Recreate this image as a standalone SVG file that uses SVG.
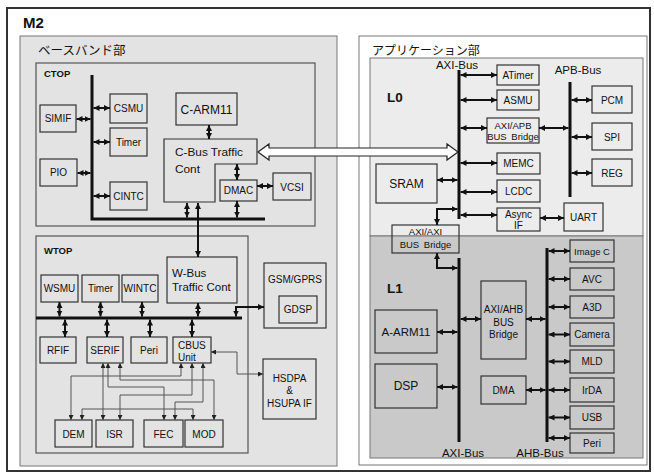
<svg xmlns="http://www.w3.org/2000/svg" width="654" height="476" viewBox="0 0 654 476">
<defs>
<marker id="ah" viewBox="0 0 8 8" refX="8" refY="4" markerWidth="6" markerHeight="6" markerUnits="userSpaceOnUse" orient="auto-start-reverse"><path d="M0,0 L8,4 L0,8 z" fill="#111"/></marker>
<marker id="sh" viewBox="0 0 8 8" refX="8" refY="4" markerWidth="5" markerHeight="5" markerUnits="userSpaceOnUse" orient="auto-start-reverse"><path d="M0,0 L8,4 L0,8 z" fill="#222"/></marker>
<style>
.t{font-family:"Liberation Sans",Arial,sans-serif;font-size:10px;fill:#111;text-anchor:middle}
.l{text-anchor:start}
.b{font-weight:bold}
.j{font-family:"Liberation Sans","Noto Sans CJK JP",sans-serif;font-size:12.5px;fill:#111}
.bb{fill:#e3e3e3;stroke:#333;stroke-width:1.2}
.b0{fill:#ececec;stroke:#333;stroke-width:1.2}
.b1{fill:#c9c9c9;stroke:#333;stroke-width:1.2}
.bus{stroke:#111;stroke-width:3;fill:none}
.c{stroke:#111;stroke-width:2;fill:none;marker-start:url(#ah);marker-end:url(#ah)}
.tc{stroke:#555;stroke-width:1;fill:none;marker-start:url(#sh);marker-end:url(#sh)}
</style>
</defs>
<rect width="654" height="476" fill="#fff"/>
<g id="frame">
<rect x="7" y="8" width="643" height="463" fill="#fff" stroke="#333" stroke-width="2"/>
<text class="t l b" x="23" y="28" style="font-size:15px">M2</text>
</g>
<g id="baseband">
<rect x="20" y="36" width="317" height="430" fill="#e3e3e3" stroke="#777" stroke-width="1"/>
<text class="j" x="38" y="55">ベースバンド部</text>
</g>
<g id="ctop">
<rect x="36" y="63" width="279" height="163" fill="#e3e3e3" stroke="#555" stroke-width="1.2"/>
<text class="t l b" x="44" y="77" style="font-size:9.5px">CTOP</text>
</g>
<g id="wtop">
<rect x="36" y="236" width="212" height="217" fill="#e3e3e3" stroke="#555" stroke-width="1.2"/>
<text class="t l b" x="44" y="254" style="font-size:9.5px">WTOP</text>
</g>
<g id="app">
<rect x="359" y="36" width="288" height="429" fill="#fff" stroke="#777" stroke-width="1"/>
<text class="j" x="372" y="55" style="font-size:12px">アプリケーション部</text>
</g>
<g id="L0">
<rect x="370" y="58" width="273" height="178" fill="#ececec" stroke="#777" stroke-width="1"/>
<text class="t l b" x="387" y="102" style="font-size:13.5px">L0</text>
</g>
<g id="L1">
<rect x="370" y="236" width="273" height="222" fill="#c9c9c9" stroke="#777" stroke-width="1"/>
<text class="t l b" x="387" y="293" style="font-size:13.5px">L1</text>
</g>

<g id="buses">
<path class="bus" d="M92,75 V219 H265"/>
<path class="bus" d="M36,318 H242"/>
<path class="bus" d="M459,70 V219"/>
<path class="bus" d="M570,82 V197"/>
<path class="bus" d="M459,258 V442"/>
<path class="bus" d="M547,248 V442"/>
<text class="t" x="457" y="69" style="font-size:11.5px">AXI-Bus</text>
<text class="t" x="578" y="74" style="font-size:11.5px">APB-Bus</text>
<text class="t" x="463" y="457" style="font-size:11.5px">AXI-Bus</text>
<text class="t" x="540" y="457" style="font-size:11.5px">AHB-Bus</text>
</g>

<g id="SIMIF"><rect class="bb" x="40" y="105" width="36" height="27"/><text class="t" x="58" y="122">SIMIF</text></g>
<g id="CSMU"><rect class="bb" x="110" y="94" width="37" height="29"/><text class="t" x="128.5" y="112">CSMU</text></g>
<g id="Timer1"><rect class="bb" x="110" y="128" width="37" height="28"/><text class="t" x="128.5" y="145.5">Timer</text></g>
<g id="PIO"><rect class="bb" x="40" y="159" width="37" height="27"/><text class="t" x="58.5" y="176">PIO</text></g>
<g id="CINTC"><rect class="bb" x="110" y="182" width="37" height="28"/><text class="t" x="128.5" y="199.5">CINTC</text></g>
<g id="CARM11"><rect class="bb" x="176" y="93" width="61" height="32"/><text class="t" x="206.5" y="113.5" style="font-size:12px">C-ARM11</text></g>
<g id="CBus"><path class="bb" d="M164,139 H257 V164 H215 V202 H164 Z"/><text class="t l" x="175" y="156" style="font-size:11.8px">C-Bus Traffic</text><text class="t l" x="175" y="173" style="font-size:11.8px">Cont</text></g>
<g id="DMAC"><rect class="bb" x="220" y="180" width="37" height="21"/><text class="t" x="238.5" y="194">DMAC</text></g>
<g id="VCSI"><rect class="bb" x="273" y="173" width="38" height="27"/><text class="t" x="292" y="190.5">VCSI</text></g>

<g id="WSMU"><rect class="bb" x="41" y="275" width="37" height="27"/><text class="t" x="59.5" y="292">WSMU</text></g>
<g id="Timer2"><rect class="bb" x="82" y="275" width="37" height="27"/><text class="t" x="100.5" y="292">Timer</text></g>
<g id="WINTC"><rect class="bb" x="122" y="275" width="36" height="27"/><text class="t" x="140" y="292">WINTC</text></g>
<g id="WBus"><rect class="bb" x="167" y="257" width="70" height="46"/><text class="t l" x="172" y="277" style="font-size:11.5px">W-Bus</text><text class="t l" x="172" y="291" style="font-size:11.5px">Traffic Cont</text></g>
<g id="RFIF"><rect class="bb" x="40" y="337" width="36" height="26"/><text class="t" x="58" y="354">RFIF</text></g>
<g id="SERIF"><rect class="bb" x="87" y="337" width="36" height="26"/><text class="t" x="105" y="354">SERIF</text></g>
<g id="Peri1"><rect class="bb" x="131" y="337" width="36" height="26"/><text class="t" x="149" y="354">Peri</text></g>
<g id="CBUSUnit"><rect class="bb" x="173" y="337" width="38" height="26"/><text class="t l" x="178" y="349">CBUS</text><text class="t l" x="178" y="360.5">Unit</text></g>
<g id="DEM"><rect class="bb" x="55" y="420" width="37" height="27"/><text class="t" x="73.5" y="437.5">DEM</text></g>
<g id="ISR"><rect class="bb" x="96" y="420" width="37" height="27"/><text class="t" x="114.5" y="437.5">ISR</text></g>
<g id="FEC"><rect class="bb" x="144" y="420" width="39" height="27"/><text class="t" x="163.5" y="437.5">FEC</text></g>
<g id="MOD"><rect class="bb" x="185" y="420" width="38" height="27"/><text class="t" x="204" y="437.5">MOD</text></g>
<g id="GSM"><rect class="bb" x="264" y="263" width="62" height="65"/><text class="t" x="295" y="283">GSM/GPRS</text></g>
<g id="GDSP"><rect class="bb" x="279" y="296" width="38" height="27"/><text class="t" x="298" y="313">GDSP</text></g>
<g id="HSDPA"><rect class="bb" x="263" y="359" width="53" height="60"/><text class="t" x="289.5" y="382">HSDPA</text><text class="t" x="289.5" y="394">&amp;</text><text class="t" x="289.5" y="407">HSUPA IF</text></g>

<g id="ATimer"><rect class="b0" x="497" y="65" width="42" height="20"/><text class="t" x="518" y="78.5">ATimer</text></g>
<g id="ASMU"><rect class="b0" x="497" y="90" width="42" height="20"/><text class="t" x="518" y="103.5">ASMU</text></g>
<g id="AXIAPB"><rect class="b0" x="487" y="118" width="52" height="25"/><text class="t" x="513" y="128.5" style="font-size:9.5px">AXI/APB</text><text class="t" x="513" y="139.5" style="font-size:9.5px;word-spacing:2px">BUS Bridge</text></g>
<g id="MEMC"><rect class="b0" x="497" y="153" width="43" height="21"/><text class="t" x="518.5" y="167">MEMC</text></g>
<g id="LCDC"><rect class="b0" x="497" y="180" width="43" height="22"/><text class="t" x="518.5" y="195">LCDC</text></g>
<g id="AsyncIF"><rect class="b0" x="497" y="208" width="43" height="23"/><text class="t" x="518.5" y="218">Async</text><text class="t" x="518.5" y="229">IF</text></g>
<g id="UART"><rect class="b0" x="564" y="203" width="39" height="28"/><text class="t" x="583.5" y="221">UART</text></g>
<g id="PCM"><rect class="b0" x="592" y="86" width="40" height="27"/><text class="t" x="612" y="103.5">PCM</text></g>
<g id="SPI"><rect class="b0" x="592" y="123" width="40" height="27"/><text class="t" x="612" y="140.5">SPI</text></g>
<g id="REG"><rect class="b0" x="592" y="159" width="40" height="27"/><text class="t" x="612" y="176.5">REG</text></g>
<g id="SRAM"><rect class="b0" x="376" y="164" width="61" height="39"/><text class="t" x="406.5" y="188" style="font-size:12px">SRAM</text></g>
<g id="AXIAXI"><rect x="392" y="225" width="67" height="28" fill="none" stroke="#333" stroke-width="1.2"/><text class="t" x="425.5" y="235" style="font-size:9.5px">AXI/AXI</text><text class="t" x="425.5" y="247.5" style="font-size:9.5px;word-spacing:2px">BUS Bridge</text></g>

<g id="AARM11"><rect class="b1" x="375" y="310" width="62" height="43"/><text class="t" x="406" y="335.5" style="font-size:11.5px">A-ARM11</text></g>
<g id="DSP"><rect class="b1" x="375" y="364" width="62" height="44"/><text class="t" x="406" y="390" style="font-size:12px">DSP</text></g>
<g id="AXIAHB"><rect class="b1" x="481" y="281" width="45" height="78"/><text class="t" x="503.5" y="313">AXI/AHB</text><text class="t" x="503.5" y="325.5">BUS</text><text class="t" x="503.5" y="338">Bridge</text></g>
<g id="DMA"><rect class="b1" x="481" y="376" width="45" height="28"/><text class="t" x="503.5" y="393.5">DMA</text></g>
<g id="ImageC"><rect class="b1" x="570" y="240" width="44" height="22"/><text class="t" x="592" y="254.5" style="font-size:9.5px">Image C</text></g>
<g id="AVC"><rect class="b1" x="570" y="268" width="44" height="22"/><text class="t" x="592" y="282.5">AVC</text></g>
<g id="A3D"><rect class="b1" x="570" y="296" width="44" height="22"/><text class="t" x="592" y="310.5">A3D</text></g>
<g id="Camera"><rect class="b1" x="570" y="323" width="44" height="23"/><text class="t" x="592" y="338">Camera</text></g>
<g id="MLD"><rect class="b1" x="570" y="350" width="44" height="23"/><text class="t" x="592" y="365">MLD</text></g>
<g id="IrDA"><rect class="b1" x="570" y="378" width="44" height="24"/><text class="t" x="592" y="393.5">IrDA</text></g>
<g id="USB"><rect class="b1" x="570" y="406" width="44" height="23"/><text class="t" x="592" y="421">USB</text></g>
<g id="Peri2"><rect class="b1" x="570" y="433" width="44" height="20"/><text class="t" x="592" y="446.5">Peri</text></g>

<g id="connectors">
<path class="c" d="M76.5,119 H90.5"/>
<path class="c" d="M93.5,108 H110"/>
<path class="c" d="M93.5,142 H110"/>
<path class="c" d="M77.5,173 H90.5"/>
<path class="c" d="M93.5,196 H110"/>
<path class="c" d="M209,125 V139"/>
<path class="c" d="M237,164 V180"/>
<path class="c" d="M237,201 V217.5"/>
<path class="c" d="M257,186 H273"/>
<path class="c" d="M187,203 V217.5"/>
<path class="c" d="M198,203 V257" stroke-width="2.5"/>
<path class="c" d="M59.5,302 V316.5"/>
<path class="c" d="M100.5,302 V316.5"/>
<path class="c" d="M142,302 V316.5"/>
<path class="c" d="M198,303 V316.5"/>
<path class="c" d="M65,319.5 V337"/>
<path class="c" d="M107,319.5 V337"/>
<path class="c" d="M150,319.5 V337"/>
<path class="c" d="M192,319.5 V337"/>
<path class="c" d="M236,316.5 V307 H264"/>
<path class="tc" d="M103,363 V420"/>
<path class="tc" d="M108,363 V387 H164 V420"/>
<path class="tc" d="M120,363 V380 H214 V420"/>
<path class="tc" d="M181,363 V376 H71 V420"/>
<path class="tc" d="M192,363 V395 H120 V420"/>
<path class="tc" d="M203,363 V402 H175 V420"/>
<path class="tc" d="M82,420 V409 H193 V420"/>
<path class="tc" d="M211,352 H237 V374 H263"/>
<polygon points="258,152 269,144 269,148 447,148 447,144 458,152 447,160 447,156 269,156 269,160" fill="#fff" stroke="#222" stroke-width="1.2"/>
<path class="c" d="M460.5,75 H497"/>
<path class="c" d="M460.5,100 H497"/>
<path class="c" d="M460.5,128 H487"/>
<path class="c" d="M539,128 H568.5"/>
<path class="c" d="M460.5,163 H497"/>
<path class="c" d="M460.5,192 H497"/>
<path class="c" d="M460.5,215 H497"/>
<path class="c" d="M540,218 H564"/>
<path class="c" d="M571.5,100 H592"/>
<path class="c" d="M571.5,137 H592"/>
<path class="c" d="M571.5,173 H592"/>
<path class="c" d="M437,180 H457.5"/>
<path class="c" d="M457.5,209 H437 V225"/>
<path class="c" d="M437,253 V268 H457.5"/>
<path class="c" d="M437,332 H457.5"/>
<path class="c" d="M437,387 H457.5"/>
<path class="c" d="M460.5,319 H481"/>
<path class="c" d="M526,319 H545.5"/>
<path class="c" d="M526,390 H545.5"/>
<path class="c" d="M548.5,251 H570"/>
<path class="c" d="M548.5,279 H570"/>
<path class="c" d="M548.5,307 H570"/>
<path class="c" d="M548.5,334.5 H570"/>
<path class="c" d="M548.5,361.5 H570"/>
<path class="c" d="M548.5,390 H570"/>
<path class="c" d="M548.5,417.5 H570"/>
<path class="c" d="M548.5,438 H570"/>
</g>
</svg>
